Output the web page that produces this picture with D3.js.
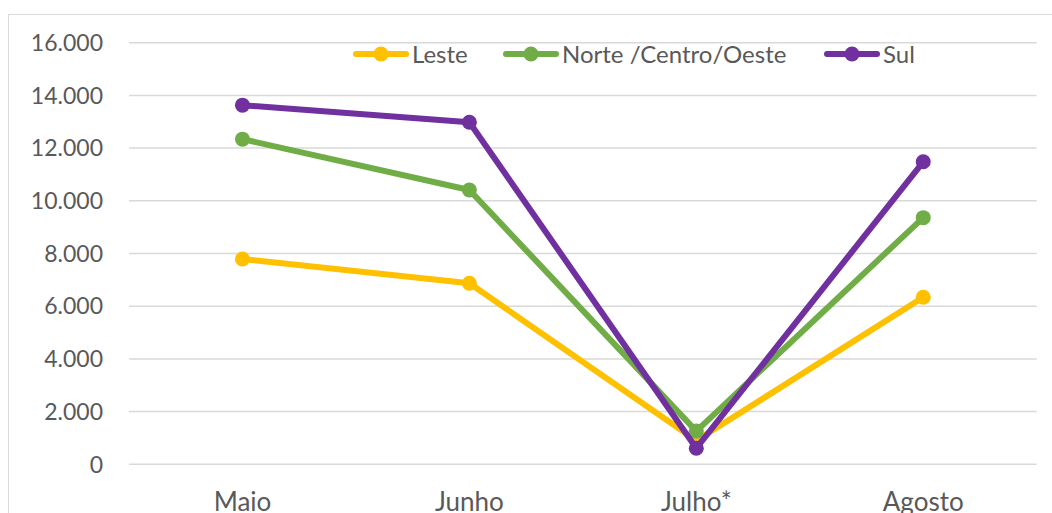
<!DOCTYPE html>
<html><head><meta charset="utf-8">
<script src="https://cdn.jsdelivr.net/npm/d3@7/dist/d3.min.js"></script>
<style>body{margin:0;background:#fff}svg{display:block}</style>
</head><body>
<script>
const categories = ["Maio", "Junho", "Julho*", "Agosto"];
const seriesNames = ["Leste", "Norte /Centro/Oeste", "Sul"];
const leste = [7790, 6870, 900, 6340];
const norte = [12340, 10410, 1260, 9360];
const sul = [13630, 12980, 610, 11480];
const yTicks = [0, 2000, 4000, 6000, 8000, 10000, 12000, 14000, 16000];
const tickLabels = ["0", "2.000", "4.000", "6.000", "8.000", "10.000", "12.000", "14.000", "16.000"];
const colors = ["#FFC000", "#70AD47", "#7030A0"];

const W = 1052, H = 513;
const svg = d3.select("body").append("svg").attr("width", W).attr("height", H);
const font = "Lato, 'Open Sans', sans-serif";

svg.append("rect").attr("x", 8.5).attr("y", 14.5).attr("width", W + 10).attr("height", H + 10)
  .attr("fill", "none").attr("stroke", "#d9d9d9").attr("stroke-width", 1);

const x = d3.scaleBand().domain(categories).range([129, 1036.7]);
const y = d3.scaleLinear().domain([0, 16000]).range([464.3, 42.7]);

const grid = svg.append("g");
yTicks.forEach((t, i) => {
  grid.append("line").attr("x1", 129).attr("x2", 1036.7).attr("y1", y(t)).attr("y2", y(t))
    .attr("stroke", "#d9d9d9").attr("stroke-width", 1.5);
  grid.append("text").attr("x", 103).attr("y", y(t)).attr("dy", "0.36em")
    .attr("text-anchor", "end").attr("fill", "#595959").attr("font-family", font)
    .attr("font-size", 23).text(tickLabels[i]);
});

categories.forEach(c => {
  svg.append("text").attr("x", x(c) + x.bandwidth() / 2).attr("y", 511)
    .attr("text-anchor", "middle").attr("fill", "#595959").attr("font-family", font)
    .attr("font-size", 26).text(c);
});

const data = [leste, norte, sul];
const line = d3.line().x((d, i) => x(categories[i]) + x.bandwidth() / 2).y(d => y(d));
data.forEach((vals, s) => {
  const g = svg.append("g");
  g.append("path").attr("d", line(vals)).attr("fill", "none").attr("stroke", colors[s])
    .attr("stroke-width", 6).attr("stroke-linejoin", "round").attr("stroke-linecap", "round");
  g.selectAll("circle").data(vals).join("circle")
    .attr("cx", (d, i) => x(categories[i]) + x.bandwidth() / 2).attr("cy", d => y(d))
    .attr("r", 7.5).attr("fill", colors[s]);
});

const legX = [353, 503, 824];
seriesNames.forEach((n, s) => {
  const g = svg.append("g");
  g.append("line").attr("x1", legX[s] + 3).attr("x2", legX[s] + 53).attr("y1", 54).attr("y2", 54)
    .attr("stroke", colors[s]).attr("stroke-width", 6).attr("stroke-linecap", "round");
  g.append("circle").attr("cx", legX[s] + 28).attr("cy", 54).attr("r", 7.5).attr("fill", colors[s]);
  g.append("text").attr("x", legX[s] + 59).attr("y", 54).attr("dy", "0.36em")
    .attr("fill", "#595959").attr("font-family", font).attr("font-size", 24).text(n);
});
</script>
</body></html>
